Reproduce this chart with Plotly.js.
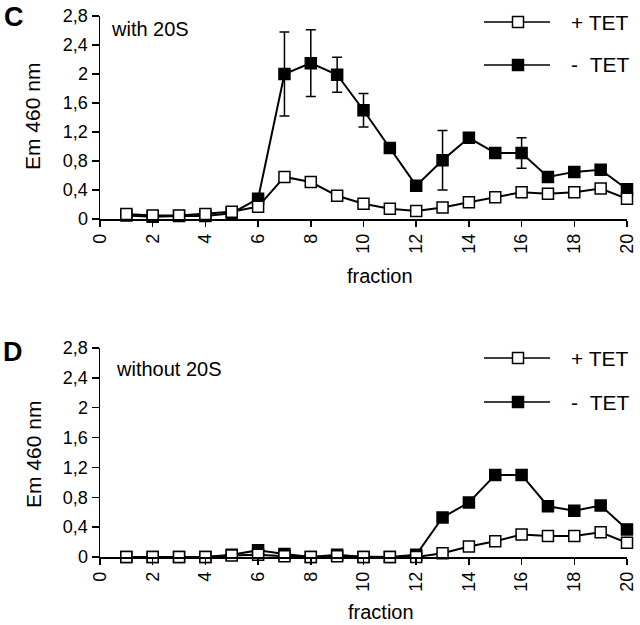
<!DOCTYPE html>
<html>
<head>
<meta charset="utf-8">
<script src="https://cdn.plot.ly/plotly-3.0.1.min.js"></script>
<style>
  body { margin: 0; background: #fff; }
  #chart { width: 640px; height: 625px; }
</style>
</head>
<body>
<div id="chart"></div>
<script>
// fractions of the gradient
var fractions = [1, 2, 3, 4, 5, 6, 7, 8, 9, 10, 11, 12, 13, 14, 15, 16, 17, 18, 19, 20];

// panel C - with 20S
var plusTetC  = [0.07, 0.05, 0.05, 0.07, 0.10, 0.17, 0.58, 0.51, 0.32, 0.21, 0.14, 0.11, 0.16, 0.23, 0.30, 0.37, 0.35, 0.37, 0.42, 0.28];
var minusTetC = [0.05, 0.03, 0.04, 0.04, 0.08, 0.28, 2.00, 2.15, 1.99, 1.50, 0.98, 0.46, 0.81, 1.12, 0.91, 0.91, 0.58, 0.65, 0.68, 0.41];
var minusTetErrC = [null, null, null, null, null, null, 0.58, 0.46, 0.24, 0.23, null, null, 0.41, null, null, 0.21, null, null, null, null];

// panel D - without 20S
var plusTetD  = [0, 0, 0, 0, 0.02, 0.03, 0.01, 0, 0.01, 0, 0, 0, 0.05, 0.14, 0.21, 0.30, 0.28, 0.28, 0.33, 0.19];
var minusTetD = [0, 0, 0, 0, 0.03, 0.09, 0.04, 0, 0.03, 0, 0, 0.03, 0.53, 0.73, 1.10, 1.10, 0.68, 0.62, 0.69, 0.37];

// tick labels
var xTickVals = [0, 2, 4, 6, 8, 10, 12, 14, 16, 18, 20];
var xTickText = ["0", "2", "4", "6", "8", "10", "12", "14", "16", "18", "20"];
var yTickVals = [0, 0.4, 0.8, 1.2, 1.6, 2, 2.4, 2.8];
var yTickText = ["0", "0,4", "0,8", "1,2", "1,6", "2", "2,4", "2,8"];

var W = 640, H = 625;
function px(x) { return x / W; }
function py(y) { return 1 - y / H; }

var FONT = "Liberation Sans, Arial, sans-serif";

function series(x, y, xa, ya, filled, err) {
    var t = {
        x: x, y: y, xaxis: xa, yaxis: ya,
        type: "scatter", mode: "lines+markers",
        line: {color: "#000", width: 2},
        marker: {symbol: "square", size: 11, color: filled ? "#000" : "#fff",
                 line: {color: "#000", width: 1.5}},
        cliponaxis: false,
        showlegend: false
    };
    if (err) {
        t.error_y = {type: "data", array: err, visible: true, color: "#000", thickness: 1.5, width: 5};
    }
    return t;
}

var traces = [
    series(fractions, minusTetC, "x", "y", true, minusTetErrC),
    series(fractions, plusTetC, "x", "y", false),
    series(fractions, minusTetD, "x2", "y2", true),
    series(fractions, plusTetD, "x2", "y2", false)
];

function xAxis(anchor) {
    return {
        domain: [px(100), px(627)], range: [0, 20], anchor: anchor,
        showline: true, linecolor: "#000", linewidth: 1.5,
        ticks: "outside", ticklen: 6, tickwidth: 1.5, tickcolor: "#000",
        tickvals: xTickVals, ticktext: xTickText, tickangle: -90,
        tickfont: {family: FONT, size: 18, color: "#000"},
        showgrid: false, zeroline: false
    };
}
function yAxis(anchor, top, bottom) {
    return {
        domain: [py(bottom), py(top)], range: [0, 2.8], anchor: anchor,
        showline: true, linecolor: "#000", linewidth: 1.5,
        ticks: "outside", ticklen: 7, tickwidth: 1.5, tickcolor: "#000",
        tickvals: yTickVals, ticktext: yTickText,
        tickfont: {family: FONT, size: 18, color: "#000"},
        showgrid: false, zeroline: false
    };
}

function ann(text, x, y, size, opts) {
    var a = {
        text: text, xref: "paper", yref: "paper", x: px(x), y: py(y),
        showarrow: false, xanchor: "center", yanchor: "middle",
        font: {family: FONT, size: size, color: "#000"}
    };
    for (var k in opts) a[k] = opts[k];
    return a;
}

var annotations = [
    ann("<b>C</b>", 3, 17, 27, {xanchor: "left", borderpad: 0}),
    ann("<b>D</b>", 2, 352, 27, {xanchor: "left", borderpad: 0}),
    ann("with 20S", 109, 29, 20, {xanchor: "left"}),
    ann("without 20S", 114, 369, 20, {xanchor: "left"}),
    ann("Em 460 nm", 32, 117, 21, {textangle: -90}),
    ann("Em 460 nm", 33, 455, 21, {textangle: -90}),
    ann("fraction", 380, 276, 20),
    ann("fraction", 381, 612, 20)
];

// legend keys (drawn per panel)
var shapes = [];
function legendKey(y, label, filled) {
    shapes.push({type: "line", xref: "paper", yref: "paper",
        x0: px(484), x1: px(550), y0: py(y), y1: py(y),
        line: {color: "#000", width: 1.5}});
    shapes.push({type: "rect", xref: "paper", yref: "paper",
        x0: px(512.5), x1: px(523.5), y0: py(y + 5.5), y1: py(y - 5.5),
        fillcolor: filled ? "#000" : "#fff", line: {color: "#000", width: 1.5}});
    annotations.push(ann(label, 569, y, 21, {xanchor: "left"}));
}
legendKey(22, "+ TET", false);
legendKey(65, "-\u00a0\u00a0TET", true);
legendKey(358, "+ TET", false);
legendKey(402, "-\u00a0\u00a0TET", true);

var layout = {
    width: W, height: H,
    margin: {l: 0, r: 0, t: 0, b: 0},
    paper_bgcolor: "#fff", plot_bgcolor: "#fff",
    font: {family: FONT, color: "#000"},
    xaxis: xAxis("y"),
    yaxis: yAxis("x", 16, 219),
    xaxis2: xAxis("y2"),
    yaxis2: yAxis("x2", 348, 557),
    annotations: annotations,
    shapes: shapes,
    showlegend: false
};

Plotly.newPlot("chart", traces, layout, {displayModeBar: false, staticPlot: true});
</script>
</body>
</html>
